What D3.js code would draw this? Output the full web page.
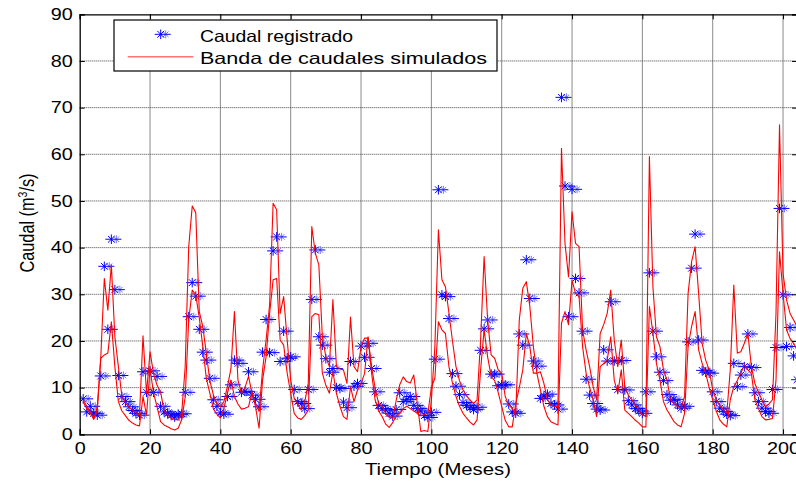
<!DOCTYPE html>
<html><head><meta charset="utf-8">
<script src="https://cdn.jsdelivr.net/npm/d3@7"></script>
<style>
html,body{margin:0;padding:0;background:#fff;}
svg{display:block;}
text{font-family:"Liberation Sans",Arial,sans-serif;fill:#000;}
</style></head><body>
<svg id="chart" width="796" height="483"></svg>
<script>
// ---- data (month index 1..204) ----
const months = d3.range(1, 205);
const caudalRegistrado = [
7.6,4.8,6.0,4.5,4.1,12.5,36.0,22.5,41.8,31.0,
12.6,8.1,7.0,5.9,5.1,4.5,4.1,13.4,9.0,13.6,
9.0,12.4,6.0,4.8,4.4,4.1,3.7,4.3,4.4,9.0,
25.2,32.5,29.6,22.5,17.6,15.9,12.0,7.4,6.0,4.6,
4.3,8.1,10.6,15.9,15.2,9.0,9.2,13.4,8.4,7.5,
5.9,17.6,24.6,17.5,39.3,42.3,15.6,22.1,16.3,16.6,
9.6,7.0,6.6,5.5,9.6,28.9,39.5,20.9,19.1,16.2,
13.3,14.1,10.0,9.8,6.9,5.7,15.6,10.3,10.9,18.9,
16.5,19.5,14.1,9.1,6.2,5.5,5.2,4.5,3.9,5.3,
8.9,7.0,7.5,8.1,6.2,5.5,5.0,4.0,3.6,4.7,
16.1,52.4,29.9,29.5,24.8,13.0,10.3,8.5,6.8,6.2,
5.7,5.3,5.8,18.0,22.6,24.5,12.9,12.9,10.4,10.6,
10.6,6.5,4.8,4.5,21.5,19.1,37.4,29.1,15.7,14.6,
7.7,8.2,8.6,6.6,6.3,5.4,72.2,53.2,25.2,52.5,
33.4,30.3,22.1,11.8,8.4,6.6,5.4,5.2,18.1,15.7,
28.4,15.7,9.6,15.8,9.5,7.2,6.3,5.5,5.0,4.5,
9.1,34.6,22.1,16.6,13.3,11.5,8.5,7.3,7.5,6.3,
5.6,6.0,19.8,35.6,42.9,20.2,13.7,13.3,13.1,9.1,
7.0,5.6,4.9,4.3,4.0,15.2,10.2,12.7,14.5,21.5,
14.3,8.9,7.0,5.6,4.9,4.5,9.6,18.6,48.4,29.9,
18.8,22.9,16.8,11.7
];
const bandaA = [
7.4,6.0,4.8,3.4,5.0,16.6,33.4,26.6,36.3,20.9,
14.5,8.1,6.8,5.8,5.2,4.6,4.1,21.1,8.8,17.7,
13.0,10.5,9.1,5.0,4.2,3.4,3.2,3.1,4.5,14.5,
40.2,48.9,47.5,26.3,23.1,17.4,11.5,8.5,6.6,5.9,
7.0,10.2,14.0,26.3,11.6,8.8,10.0,12.4,8.8,6.5,
5.0,13.8,20.2,27.7,49.5,48.1,25.9,29.5,20.2,11.6,
7.7,6.5,5.2,7.0,10.9,44.5,38.8,36.3,20.9,16.6,
14.5,28.9,14.5,14.0,13.8,10.9,25.1,14.5,13.4,18.8,
20.6,20.6,14.5,9.9,6.6,6.0,4.5,3.8,3.4,7.3,
10.6,12.3,11.3,11.0,12.7,6.6,0.6,0.8,0.6,7.3,
18.8,43.8,33.1,31.6,26.0,20.0,14.5,11.5,9.5,8.3,
7.3,6.6,7.4,20.2,38.1,24.5,17.0,16.3,13.8,13.1,
8.1,6.3,5.5,4.5,24.5,31.3,32.7,27.4,18.8,13.1,
13.4,10.9,7.4,6.3,6.0,5.9,61.3,40.9,33.7,47.7,
40.9,40.2,22.4,18.1,14.5,10.2,7.4,21.6,23.5,25.9,
30.9,20.2,14.5,20.2,10.2,8.4,7.4,6.3,5.2,4.2,
3.8,59.5,31.6,20.9,18.8,13.8,11.6,7.4,6.6,6.0,
5.6,8.1,30.2,37.0,40.2,30.2,19.5,15.9,13.8,9.5,
7.4,6.3,5.2,4.5,13.8,32.0,17.4,17.7,19.5,21.6,
14.5,10.9,9.0,7.4,5.9,6.5,7.4,25.9,66.3,34.5,
28.8,25.9,24.5,23.1
];
const bandaB = [
6.9,5.5,4.5,3.2,5.9,16.3,17.0,17.4,24.1,14.5,
7.0,5.0,4.0,3.0,2.4,2.0,1.8,8.1,4.1,14.1,
8.8,5.9,2.7,2.0,1.6,1.2,0.9,1.3,3.1,8.0,
24.5,30.9,29.9,25.0,18.8,12.0,8.8,5.5,4.3,3.5,
5.5,8.8,11.6,8.1,6.5,5.4,5.6,5.9,9.1,5.9,
1.3,11.6,16.6,25.9,33.1,33.4,20.2,19.1,13.1,8.8,
4.5,3.5,3.2,4.0,5.2,25.2,25.9,25.6,13.1,10.5,
8.8,13.4,8.8,6.0,3.8,3.2,10.2,7.0,9.5,10.9,
13.0,20.9,13.1,7.4,5.0,3.8,2.2,1.5,2.5,4.0,
4.5,5.5,6.0,5.5,5.0,4.5,4.0,4.2,4.5,10.0,
12.0,24.1,22.4,21.6,14.5,11.0,8.1,6.0,4.5,3.5,
2.6,2.0,3.1,13.8,22.4,16.6,12.4,11.5,9.0,6.0,
3.0,1.6,1.6,6.6,10.0,13.8,21.6,18.8,13.1,13.1,
9.5,6.0,3.8,2.7,2.3,2.0,23.8,26.3,23.5,33.0,
30.2,29.5,18.8,13.1,10.0,7.4,3.8,14.5,15.2,15.9,
20.9,11.6,8.8,13.8,5.2,4.5,3.8,3.0,2.4,1.6,
1.6,27.4,21.6,15.2,11.6,7.0,5.2,4.0,2.7,2.0,
1.6,4.5,18.8,23.1,26.3,18.1,15.2,13.1,10.0,7.4,
5.0,3.1,2.2,1.6,7.4,10.2,11.5,13.1,14.9,13.8,
13.0,7.4,5.5,3.8,3.1,3.2,3.4,11.6,39.1,30.2,
22.4,20.5,19.5,18.0
];
const xTicks = [0,20,40,60,80,100,120,140,160,180,200];
const yTicks = [0,10,20,30,40,50,60,70,80,90];
const legendLabels = ["Caudal registrado","Banda de caudales simulados"];
const xTitle = "Tiempo (Meses)";

// ---- layout ----
const plot = {left:79.7, right:797.1, top:14.3, bottom:434.3};
const SX = 1.2; // horizontal stretch of text
const svg = d3.select("#chart");
const x = d3.scaleLinear().domain([0,204]).range([plot.left, plot.right]);
const y = d3.scaleLinear().domain([0,90]).range([plot.bottom, plot.top]);

function stretch(sel,k){
  sel.each(function(){
    const w=this.getComputedTextLength();
    if(w>0){this.setAttribute("textLength",w*k);this.setAttribute("lengthAdjust","spacingAndGlyphs");}
  });
}

svg.append("rect").attr("width",796).attr("height",483).attr("fill","#fff");

// grid
const grid = svg.append("g");
grid.selectAll("line.v").data(xTicks.filter(d=>d>0)).join("line")
  .attr("x1",d=>x(d)).attr("x2",d=>x(d)).attr("y1",plot.top).attr("y2",plot.bottom)
  .attr("stroke","#8a8a8a").attr("stroke-width",1);
grid.selectAll("line.h").data(yTicks.filter(d=>d>0&&d<90)).join("line")
  .attr("x1",plot.left).attr("x2",plot.right).attr("y1",d=>y(d)).attr("y2",d=>y(d))
  .attr("stroke","#444").attr("stroke-width",1).attr("stroke-dasharray","1,1");

// clip
svg.append("clipPath").attr("id","clip").append("rect")
  .attr("x",plot.left).attr("y",plot.top-8).attr("width",plot.right-plot.left+10).attr("height",plot.bottom-plot.top+8);

const starPath = "M-6,0H10M0,-4.8V4.8M-3.4,-3.4L3.4,3.4M-3.4,3.4L3.4,-3.4";
const ghostPath = "M5,-4V4M2.2,-2.8L7.8,2.8M2.2,2.8L7.8,-2.8";

// observed
const obs = svg.append("g").attr("clip-path","url(#clip)");
const pts = months.map((m,i)=>[m,caudalRegistrado[i]]);
obs.selectAll("path.g").data(pts).join("path")
  .attr("d",ghostPath).attr("transform",d=>`translate(${x(d[0])},${y(d[1])})`)
  .attr("fill","none").attr("stroke","#7a7aff").attr("stroke-width",1);
obs.selectAll("path.s").data(pts).join("path")
  .attr("d",starPath).attr("transform",d=>`translate(${x(d[0])},${y(d[1])})`)
  .attr("fill","none").attr("stroke","#0000ff").attr("stroke-width",1);

// bands
const line = d3.line().x(d=>x(d[0])).y(d=>y(d[1]));
const bands = svg.append("g").attr("clip-path","url(#clip)");
[bandaA,bandaB].forEach(arr=>{
  bands.append("path").datum(months.map((m,i)=>[m,arr[i]])).attr("d",line)
    .attr("fill","none").attr("stroke","#ff0000").attr("stroke-width",1.1).attr("stroke-linejoin","round");
});

// axes
const axL = svg.append("g").attr("transform",`translate(${plot.left},0)`)
  .call(d3.axisLeft(y).tickValues(yTicks).tickSize(-5).tickPadding(7));
const axB = svg.append("g").attr("transform",`translate(0,${plot.bottom})`)
  .call(d3.axisBottom(x).tickValues(xTicks).tickSize(-5).tickPadding(8));
svg.append("g").attr("transform",`translate(0,${plot.top})`)
  .call(d3.axisTop(x).tickValues(xTicks).tickSize(-5).tickFormat(""));
svg.append("g").attr("transform",`translate(${plot.right},0)`)
  .call(d3.axisRight(y).tickValues(yTicks).tickSize(-5).tickFormat(""));
svg.selectAll(".domain").attr("stroke","#000").attr("stroke-width",1.3);
svg.selectAll(".tick line").attr("stroke","#000");
[axL,axB].forEach(a=>a.selectAll("text").attr("font-size",16.5).attr("font-family","Liberation Sans, Arial, sans-serif").attr("fill","#000"));
stretch(axL.selectAll("text"),SX);
stretch(axB.selectAll("text"),SX);

// axis titles
const xt = svg.append("text").attr("x",438).attr("y",475).attr("text-anchor","middle")
  .attr("font-size",16.3).text(xTitle);
stretch(xt,SX*1.04);

const yt = svg.append("g").attr("transform",`translate(34,223) scale(${SX},1) rotate(-90)`)
  .append("text").attr("text-anchor","middle").attr("font-size",16.3);
yt.append("tspan").text("Caudal (m");
yt.append("tspan").attr("font-size",10.5).attr("dy",-6).text("3");
yt.append("tspan").attr("dy",6).text("/s)");

// legend
const lg = svg.append("g");
lg.append("rect").attr("x",114).attr("y",20).attr("width",383).attr("height",51)
  .attr("fill","#fff").attr("stroke","#000").attr("stroke-width",1.2);
lg.append("path").attr("d",ghostPath).attr("transform","translate(160.7,34.3)")
  .attr("fill","none").attr("stroke","#7a7aff");
lg.append("path").attr("d",starPath).attr("transform","translate(160.7,34.3)")
  .attr("fill","none").attr("stroke","#0000ff");
lg.append("line").attr("x1",127.7).attr("x2",193.3).attr("y1",56.7).attr("y2",56.7)
  .attr("stroke","#ff0000").attr("stroke-opacity",0.55).attr("stroke-width",1.4);
const legendWidths = [153, 287];
lg.selectAll("text.l").data(legendLabels).join("text")
  .attr("x",200).attr("y",(d,i)=>41.5+i*22.5).attr("font-size",16.5)
  .attr("textLength",(d,i)=>legendWidths[i]).attr("lengthAdjust","spacingAndGlyphs")
  .text(d=>d);
</script>
</body></html>
